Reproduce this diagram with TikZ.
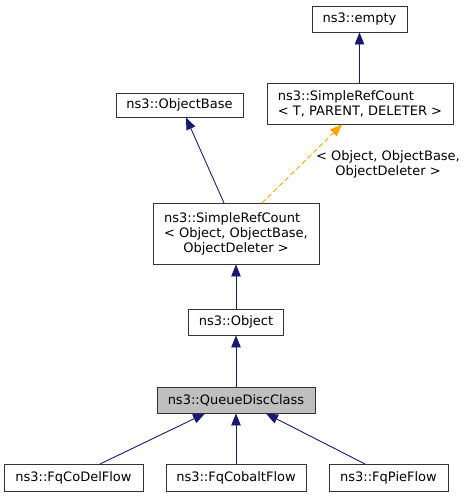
\documentclass[tikz,border=0pt]{standalone}
\usepackage{fontspec}
\usepackage{calc}
\setmainfont{DejaVu Sans}
\usetikzlibrary{arrows.meta}
\definecolor{edgeblue}{RGB}{25,25,112}
\definecolor{edgeorange}{RGB}{255,165,0}
\definecolor{boxgray}{RGB}{191,191,191}
\newcommand{\dxfont}{\fontsize{13}{15}\selectfont}
\begin{document}
\begin{tikzpicture}[x=1pt,y=-1pt,
  cls/.style={draw=black!80,line width=0.9pt,fill=white,inner sep=0pt,font=\dxfont},
  inh/.style={edgeblue,line width=0.9pt,-{Triangle[length=12pt,width=9.5pt]}},
  tmpl/.style={edgeorange,line width=0.9pt,dashed,dash pattern=on 5pt off 3pt,-{Triangle[length=12pt,width=9.5pt]}}]
\useasboundingbox (0,0) rectangle (465,496);
\node[cls,minimum width=95pt,minimum height=26pt] (empty) at (359.5,19) {ns3::empty};
\node[cls,minimum width=186pt,minimum height=41pt,align=left] (srcT) at (360,103.5) {ns3::SimpleRefCount\\{<} T, PARENT, DELETER {>}};
\node[cls,minimum width=127pt,minimum height=24pt] (ob) at (179.5,105) {ns3::ObjectBase};
\node[cls,minimum width=166pt,minimum height=61pt,align=center] (srcO) at (236,233.5) {\makebox[\widthof{< Object, ObjectBase,}][l]{ns3::SimpleRefCount}\\{<} Object, ObjectBase,\\ObjectDeleter {>}};
\node[cls,minimum width=95pt,minimum height=26pt] (obj) at (236,322) {ns3::Object};
\node[cls,fill=boxgray,minimum width=158pt,minimum height=26pt] (qdc) at (236,400) {ns3::QueueDiscClass};
\node[cls,minimum width=139pt,minimum height=27pt] (codel) at (73.5,477.5) {ns3::FqCoDelFlow};
\node[cls,minimum width=140pt,minimum height=27pt] (cobalt) at (236,477.5) {ns3::FqCobaltFlow};
\node[cls,minimum width=119pt,minimum height=27pt] (pie) at (388.5,477.5) {ns3::FqPieFlow};
\draw[inh] (srcT.north -| empty) -- (empty.south);
\draw[inh] (224,203) coordinate (a1) -- (186,117.5) coordinate (a2);
\draw[tmpl] (262,203) coordinate (b1) -- (342,124.5) coordinate (b2);
\node[font=\dxfont,align=center,inner sep=0pt] (lbl) at (388,164) {{<} Object, ObjectBase,\\ObjectDeleter {>}};
\draw[inh] (srcO.north |- obj.north) -- (srcO.south);
\draw[inh] (qdc.north) -- (obj.south);
\draw[inh] (100,464) coordinate (c1) -- (205,413.5) coordinate (c2);
\draw[inh] (cobalt.north) -- (qdc.south);
\draw[inh] (365,464) coordinate (d1) -- (266,413.5) coordinate (d2);
\end{tikzpicture}
\end{document}
